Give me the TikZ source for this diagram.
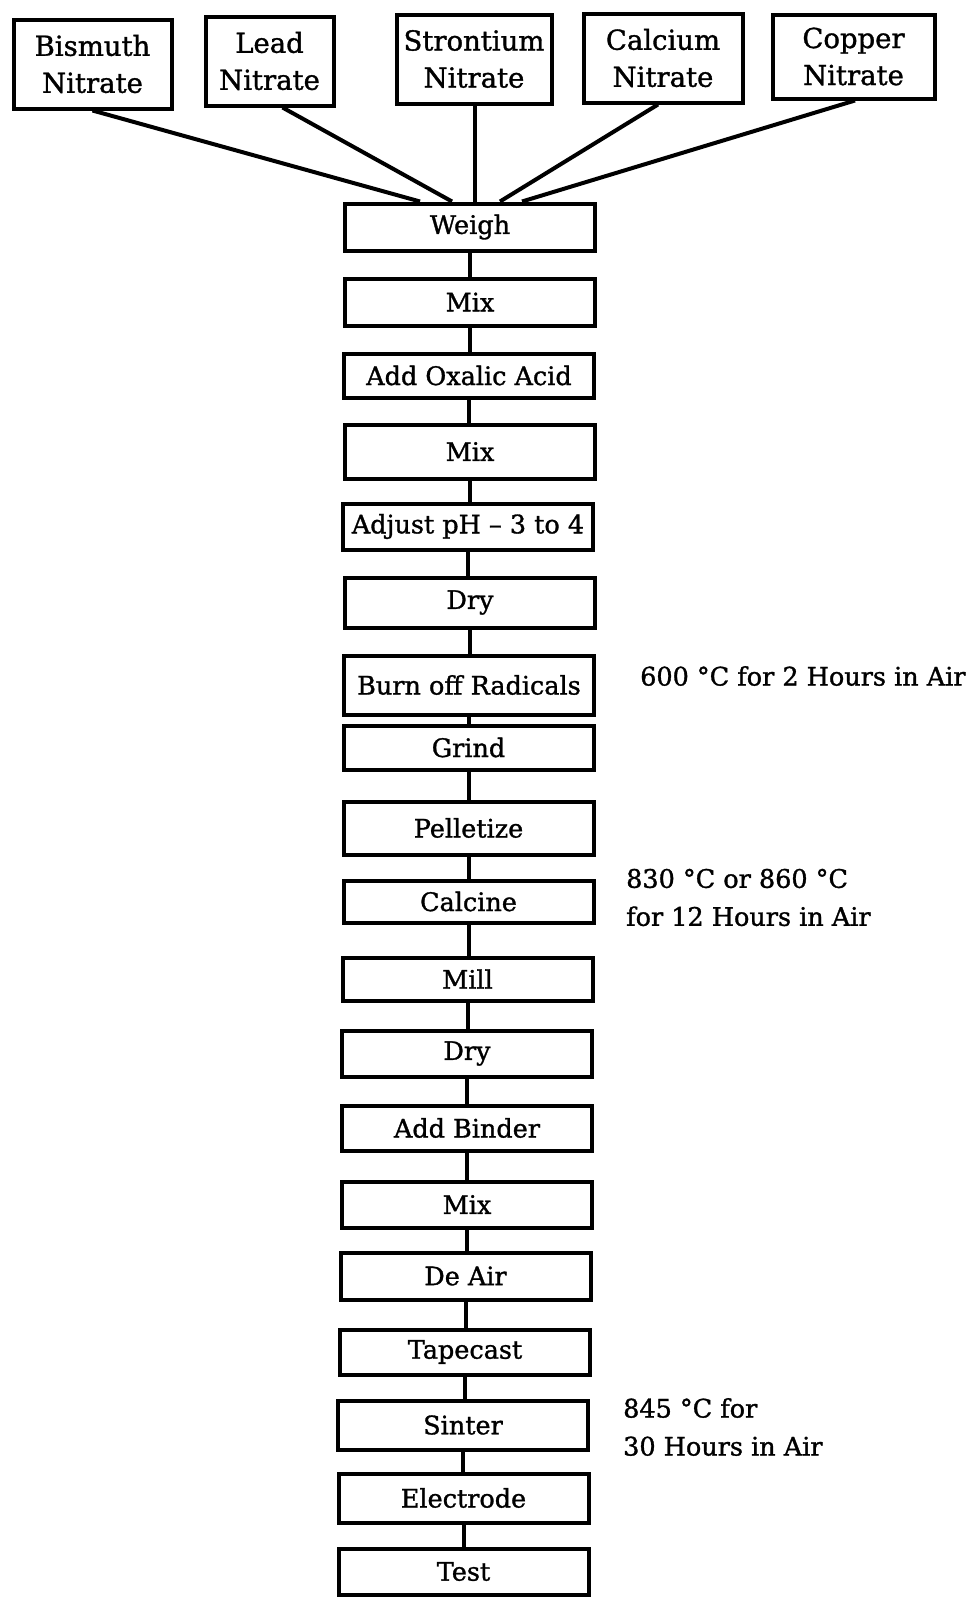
\documentclass[tikz,border=0pt]{standalone}
\usepackage{fontspec}
\setmainfont{DejaVu Serif}[RawFeature={embolden=1.2}]
\begin{document}
\begin{tikzpicture}[x=1pt,y=-1pt,
  srcbox/.style={draw, line width=4pt, align=center, inner sep=0pt, font=\fontsize{27.5}{37}\selectfont},
  stepbox/.style={draw, line width=4pt, minimum width=250pt, inner sep=0pt, font=\fontsize{25.5}{30}\selectfont},
  link/.style={line width=4pt},
  note/.style={anchor=west, align=left, inner sep=0pt, font=\fontsize{25.5}{38}\selectfont}]
\fill[white] (0,0) rectangle (970,1598);
\useasboundingbox (0,0) rectangle (970,1598);

% source boxes
\node[srcbox, minimum width=158pt, minimum height=89pt] (bis) at (92.5,64) {Bismuth\\Nitrate};
\node[srcbox, minimum width=128pt, minimum height=89pt] (lead) at (269.5,61) {Lead\\Nitrate};
\node[srcbox, minimum width=155pt, minimum height=89pt] (sr) at (474,59) {Strontium\\Nitrate};
\node[srcbox, minimum width=159pt, minimum height=89pt] (ca) at (663,58) {Calcium\\Nitrate};
\node[srcbox, minimum width=162pt, minimum height=84pt] (cu) at (853.5,56.5) {Copper\\Nitrate};

% process steps
\node[stepbox, minimum height=47pt] (weigh) at (470,227) {Weigh};
\node[stepbox, minimum height=47pt] (mixa) at (470,302) {Mix};
\node[stepbox, minimum height=44pt] (oxal) at (469,375.5) {Add Oxalic Acid};
\node[stepbox, minimum height=54pt] (mixb) at (470,451.5) {Mix};
\node[stepbox, minimum height=46pt] (adj) at (468,526.5) {Adjust pH – 3 to 4};
\node[stepbox, minimum height=50pt] (drya) at (470,602.5) {Dry};
\node[stepbox, minimum height=59pt] (burn) at (469,685) {Burn off Radicals};
\node[stepbox, minimum height=44pt] (grind) at (468.5,747.5) {Grind};
\node[stepbox, minimum height=53pt] (pel) at (468.5,828) {Pelletize};
\node[stepbox, minimum height=42pt] (calc) at (468.5,901.5) {Calcine};
\node[stepbox, minimum height=43pt] (mill) at (467.5,979) {Mill};
\node[stepbox, minimum height=46pt] (dryb) at (467,1053.5) {Dry};
\node[stepbox, minimum height=45pt] (bind) at (467,1128) {Add Binder};
\node[stepbox, minimum height=46pt] (mixc) at (467,1204.5) {Mix};
\node[stepbox, minimum height=47pt] (deair) at (465.5,1276) {De Air};
\node[stepbox, minimum height=45pt] (tape) at (465,1352) {Tapecast};
\node[stepbox, minimum height=49pt] (sint) at (463,1425) {Sinter};
\node[stepbox, minimum height=49pt] (elec) at (463.5,1498) {Electrode};
\node[stepbox, minimum height=46pt] (test) at (463.5,1571.5) {Test};

% notes
\node[note] (n1) at (640,676) {600 °C for 2 Hours in Air};
\node[note] (n2) at (626,897.5) {830 °C or 860 °C\\for 12 Hours in Air};
\node[note] (n3) at (623,1427) {845 °C for\\30 Hours in Air};

% source connectors
\draw[link] (bis.south) -- ([xshift=-50pt]weigh.north);
\draw[link] ([xshift=13pt]lead.south) -- ([xshift=-18pt]weigh.north);
\draw[link] ([xshift=1pt]sr.south) -- ([xshift=5pt]weigh.north);
\draw[link] ([xshift=-5pt]ca.south) -- ([xshift=30pt]weigh.north);
\draw[link] ([xshift=1.5pt]cu.south) -- ([xshift=52pt]weigh.north);

% chain connectors
\foreach \a/\b in {weigh/mixa, mixa/oxal, oxal/mixb, mixb/adj, adj/drya, drya/burn,
  burn/grind, grind/pel, pel/calc, calc/mill, mill/dryb, dryb/bind, bind/mixc,
  mixc/deair, deair/tape, tape/sint, sint/elec, elec/test}
  \draw[link] (\a.south) -- (\a.south |- \b.north);
\end{tikzpicture}
\end{document}
